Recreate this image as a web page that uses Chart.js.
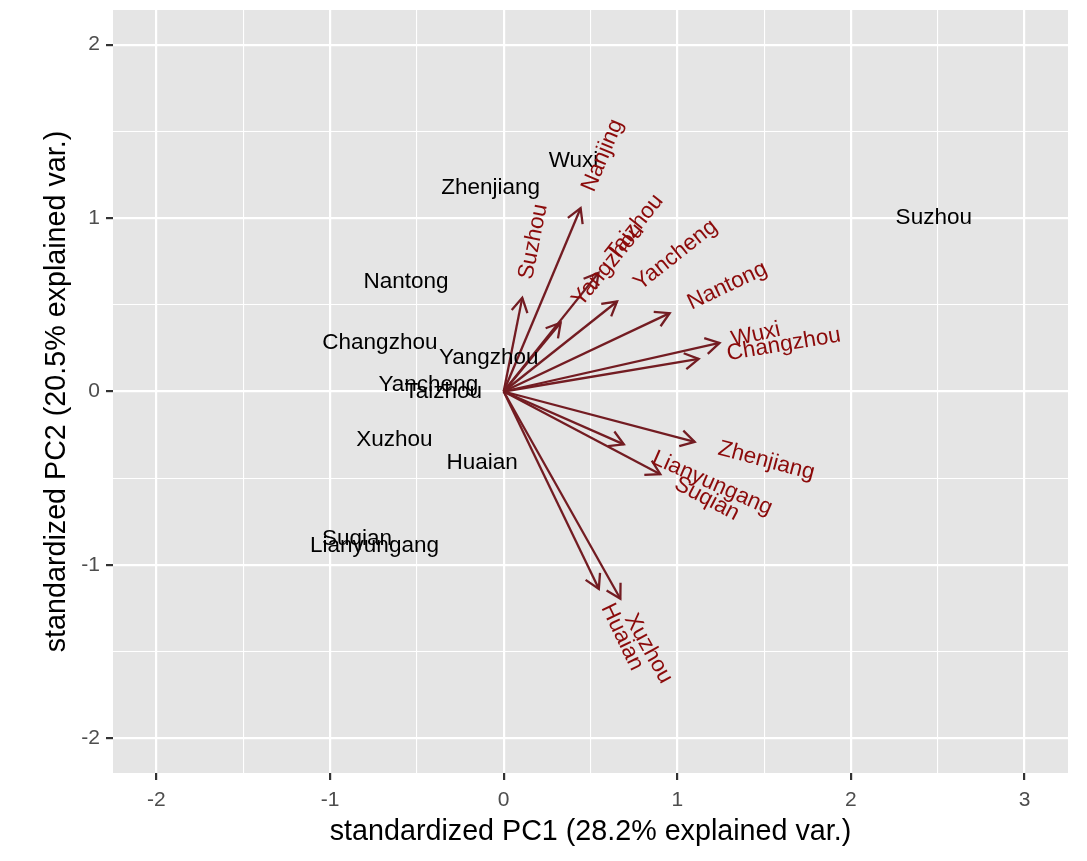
<!DOCTYPE html>
<html>
<head>
<meta charset="utf-8">
<script src="https://cdn.jsdelivr.net/npm/chart.js@4"></script>
<style>
  body { margin: 0; background: #fff; }
  #wrap { width: 1087px; height: 861px; }
</style>
</head>
<body>
<div id="wrap"><canvas id="grafico"></canvas></div>
<script>
// observations (city scores)
const cidades = ['Suzhou', 'Wuxi', 'Zhenjiang', 'Nantong', 'Changzhou', 'Yangzhou', 'Yancheng', 'Taizhou', 'Xuzhou', 'Huaian', 'Suqian', 'Lianyungang'];
const pc1 = [2.477, 0.402, -0.075, -0.563, -0.713, -0.086, -0.434, -0.348, -0.629, -0.124, -0.845, -0.744];
const pc2 = [1.0, 1.333, 1.172, 0.632, 0.282, 0.195, 0.04, 0.0, -0.276, -0.414, -0.851, -0.891];

// variable loadings (arrows)
const variaveis = ['Nanjing', 'Suzhou', 'Yangzhou', 'Taizhou', 'Yancheng', 'Nantong', 'Wuxi', 'Changzhou', 'Zhenjiang', 'Lianyungang', 'Suqian', 'Huaian', 'Xuzhou'];
const cargaX = [0.443, 0.107, 0.328, 0.546, 0.653, 0.956, 1.243, 1.123, 1.10, 0.692, 0.902, 0.548, 0.672];
const cargaY = [1.057, 0.54, 0.397, 0.684, 0.519, 0.452, 0.28, 0.188, -0.291, -0.305, -0.477, -1.138, -1.195];

// ticks
const ticksX = [-2, -1.5, -1, -0.5, 0, 0.5, 1, 1.5, 2, 2.5, 3];
const ticksY = [-2, -1.5, -1, -0.5, 0, 0.5, 1, 1.5, 2];

const corSeta = '#731C22';
const corNome = '#8B0A0A';
const fonte = '"Liberation Sans", Arial, Helvetica, sans-serif';

const datasets = variaveis.map((nome, i) => ({
    label: nome,
    data: [{x: 0, y: 0}, {x: cargaX[i], y: cargaY[i]}],
    showLine: true,
    borderColor: corSeta,
    borderWidth: 2.3,
    pointRadius: 0,
    fill: false
}));

const fundo = {
    id: 'fundo',
    beforeDraw(chart) {
        const {ctx, chartArea: a} = chart;
        ctx.save();
        ctx.fillStyle = '#E5E5E5';
        ctx.fillRect(a.left, a.top, a.right - a.left, a.bottom - a.top);
        ctx.restore();
    }
};

const rotulos = {
    id: 'rotulos',
    afterDatasetsDraw(chart) {
        const {ctx, scales: {x, y}} = chart;
        ctx.save();
        // arrow heads
        ctx.strokeStyle = corSeta;
        ctx.lineWidth = 2.3;
        ctx.lineCap = 'butt';
        ctx.lineJoin = 'miter';
        const x0 = x.getPixelForValue(0), y0 = y.getPixelForValue(0);
        variaveis.forEach((nome, i) => {
            const px = x.getPixelForValue(cargaX[i]);
            const py = y.getPixelForValue(cargaY[i]);
            const ang = Math.atan2(py - y0, px - x0);
            const len = 16, abre = Math.PI / 6;
            ctx.beginPath();
            ctx.moveTo(px - len * Math.cos(ang - abre), py - len * Math.sin(ang - abre));
            ctx.lineTo(px, py);
            ctx.lineTo(px - len * Math.cos(ang + abre), py - len * Math.sin(ang + abre));
            ctx.stroke();
        });

        // observation names
        ctx.font = '22.5px ' + fonte;
        ctx.fillStyle = '#000';
        ctx.textAlign = 'center';
        ctx.textBaseline = 'middle';
        cidades.forEach((nome, i) => {
            ctx.fillText(nome, x.getPixelForValue(pc1[i]), y.getPixelForValue(pc2[i]));
        });

        // variable names
        ctx.fillStyle = corNome;
        ctx.textAlign = 'left';
        variaveis.forEach((nome, i) => {
            const px = x.getPixelForValue(cargaX[i]);
            const py = y.getPixelForValue(cargaY[i]);
            const ang = Math.atan(cargaY[i] / cargaX[i]);
            const w = ctx.measureText(nome).width;
            const hjust = (1 - 1.5 * Math.sign(cargaX[i])) / 2;
            ctx.save();
            ctx.translate(px, py);
            ctx.rotate(-ang);
            ctx.fillText(nome, -hjust * w, 0);
            ctx.restore();
        });
        ctx.restore();
    }
};

function gradeEixo() {
    return {
        color: '#FFFFFF',
        lineWidth: c => (c.tick && Number.isInteger(c.tick.value)) ? 2.2 : 1.1,
        tickColor: c => (c.tick && Number.isInteger(c.tick.value)) ? '#333333' : 'rgba(0,0,0,0)',
        tickWidth: 2.2,
        tickLength: 7,
        drawTicks: true
    };
}

new Chart(document.getElementById('grafico'), {
    type: 'scatter',
    data: { datasets },
    options: {
        responsive: true,
        maintainAspectRatio: false,
        animation: false,
        layout: { padding: { top: 10, right: 19, bottom: 12, left: 36 } },
        plugins: {
            legend: { display: false },
            tooltip: { enabled: false }
        },
        scales: {
            x: {
                type: 'linear',
                min: -2.25,
                max: 3.25,
                afterBuildTicks: s => { s.ticks = ticksX.map(v => ({value: v})); },
                afterFit: s => { s.height = 76; s.paddingLeft = 0; s.paddingRight = 0; },
                border: { display: false },
                grid: gradeEixo(),
                ticks: {
                    color: '#4D4D4D',
                    font: { family: fonte, size: 21 },
                    padding: 8,
                    maxRotation: 0,
                    autoSkip: false,
                    callback: v => Number.isInteger(v) ? String(v) : ''
                },
                title: {
                    display: true,
                    text: 'standardized PC1 (28.2% explained var.)',
                    color: '#000',
                    font: { family: fonte, size: 28.7 },
                    padding: { top: 0, bottom: 0 }
                }
            },
            y: {
                type: 'linear',
                min: -2.2,
                max: 2.2,
                afterBuildTicks: s => { s.ticks = ticksY.map(v => ({value: v})); },
                afterFit: s => { s.width = 77; s.paddingTop = 0; s.paddingBottom = 0; },
                border: { display: false },
                grid: gradeEixo(),
                ticks: {
                    color: '#4D4D4D',
                    font: { family: fonte, size: 21 },
                    padding: 6,
                    autoSkip: false,
                    callback: v => Number.isInteger(v) ? String(v) : ''
                },
                title: {
                    display: true,
                    text: 'standardized PC2 (20.5% explained var.)',
                    color: '#000',
                    font: { family: fonte, size: 28.7 },
                    padding: { top: 4, bottom: 0 }
                }
            }
        }
    },
    plugins: [fundo, rotulos]
});
</script>
</body>
</html>
